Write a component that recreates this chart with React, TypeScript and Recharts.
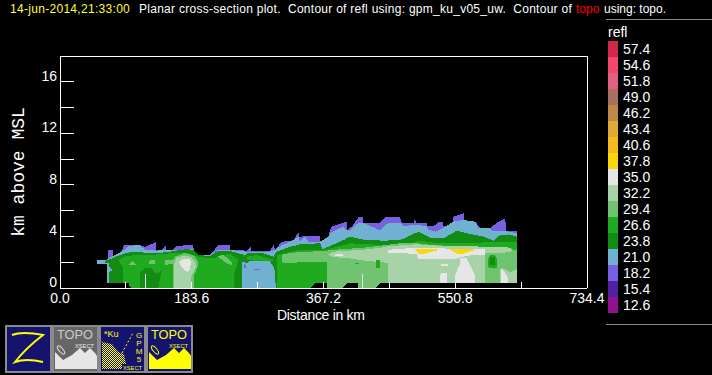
import { ComposedChart, Area, XAxis, YAxis } from "recharts";

const FONT = "'Liberation Sans', Arimo, sans-serif";

const distanceTicks = [0, 91.8, 183.6, 275.4, 367.2, 459, 550.8, 642.6, 734.4];
const heightTicks = [0, 2, 4, 6, 8, 10, 12, 14, 16];

const legendLevels = ["57.4", "54.6", "51.8", "49.0", "46.2", "43.4", "40.6", "37.8", "35.0", "32.2", "29.4", "26.6", "23.8", "21.0", "18.2", "15.4", "12.6"];
const legendColors = ["#d0284a", "#f2476f", "#e06080", "#a87060", "#c08848", "#e0a838", "#f8b820", "#f8d808", "#e6e6e6", "#a8d2a8", "#70c470", "#20aa20", "#128c12", "#70b0d0", "#7860e0", "#5020a0", "#901090"];

const PURPLE = "#7860e0";
const BLUE = "#70b0d0";
const DARK = "#128c12";
const GREEN = "#20aa20";
const LIGHT = "#70c470";
const PALE = "#a8d2a8";
const GRAY = "#e6e6e6";
const YELLOW = "#f8d808";

// [distance km, lower km, upper km]
type Pt = number[];

const purpleEnvelope: Pt[] = [
  [67, 2.2, 2.95], [73.4, 2.2, 2.95], [73.4, 2, 2.48], [82.7, 0, 2.5], [89.2, 0, 3.33], [111.5, 0, 3.33], [118.5, 0, 3.2],
  [125.4, 0, 3.38], [133.3, 0, 3.54], [133.3, 0, 2.95], [141.7, 0, 2.95], [147.8, 0, 3.26], [147.8, 0, 2.95], [157, 0, 2.95],
  [163.5, 0, 3.28], [185, 0, 3.33], [186.8, 0, 2.95], [192.8, 0, 2.56], [209, 0, 2.56], [220.7, 0, 3.33], [237, 0, 3.33],
  [237, 0, 2.95], [260.2, 0, 2.9], [266.2, 0, 3.26], [266.2, 0, 2.9], [292.7, 0, 2.9], [297.4, 0, 3.33], [299.7, 0, 2.95],
  [309, 0, 3.59], [325.3, 0, 3.67], [332.2, 0, 4.32], [333.2, 0, 3.98], [346, 0, 4.03], [362.5, 0, 4.03], [362.5, 0, 3.59],
  [371.8, 0, 3.59], [377.8, 0, 4.76], [395, 0, 5.07], [399.7, 0, 5.15], [399.7, 0, 4.5], [406.6, 0, 4.76], [415.9, 0, 5.48],
  [422, 0, 5.48], [422, 0, 5.07], [446.1, 0, 5.07], [453.1, 0, 5.48], [474, 0, 5.48], [476.3, 0, 5.07], [492.6, 0, 5.07],
  [494.9, 0, 5.4], [495.9, 0, 5.07], [511.2, 0, 5.07], [511.2, 0, 4.81], [520.5, 0, 4.81], [527.4, 0, 5.09], [533.5, 0, 5.09],
  [533.5, 0, 4.81], [547.4, 0, 4.81], [548.4, 0, 5.53], [562.3, 0, 5.79], [563.2, 0, 5.15], [578.6, 0, 5.15], [585.5, 0, 4.63],
  [599.5, 0, 4.63], [608.8, 0, 5.07], [620.4, 0, 5.4], [621.8, 0, 4.45], [636.7, 0, 4.45],
];

const blueEnvelope: Pt[] = [
  [51.6, 1.9, 2.17], [65, 1.9, 2.17], [66, 0, 2.25], [83.6, 0, 2.74], [89.2, 0, 2.95], [95.2, 0, 3.26], [111.5, 0, 3.33],
  [118.5, 0, 2.95], [134.7, 0, 2.9], [148.7, 0, 2.95], [165, 0, 2.95], [185.8, 0, 3], [192.8, 0, 2.56], [209, 0, 2.56],
  [220.7, 0, 2.95], [237, 0, 2.95], [260.2, 0, 2.82], [292.7, 0, 2.82], [299.7, 0, 2.95], [309, 0, 3.33], [320.6, 0, 3.59],
  [332.2, 0, 4], [334.6, 0, 3.6], [341.6, 0, 3.98], [346.2, 0, 3.59], [362.5, 0, 3.59], [374.1, 0, 3.98], [377.8, 0, 4.32],
  [395, 0, 4.76], [399.7, 0, 4.5], [404.3, 0, 4.45], [415.9, 0, 5.07], [422.9, 0, 5.07], [446.1, 0, 4.45], [457.7, 0, 5.07],
  [474, 0, 5.07], [478.7, 0, 4.81], [494.9, 0, 4.89], [511.2, 0, 4.81], [513.5, 0, 4.5], [524.2, 0, 4.37], [533.5, 0, 4.63],
  [548.4, 0, 5.15], [562.3, 0, 5.28], [578.6, 0, 5.15], [583.2, 0, 4.63], [599.5, 0, 4.63], [601.8, 0, 4.45], [618, 0, 4.45],
  [636.7, 0, 4.24],
];

const darkEnvelope: Pt[] = [
  [63, 1.95, 2.1], [68, 1.95, 2.2], [68, 0, 2.2], [83.6, 0, 2.56], [95.2, 0, 2.74], [102.2, 0, 2.82], [118.5, 0, 2.74],
  [134.7, 0, 2.69], [153.3, 0, 2.82], [176.6, 0, 3.02], [185.8, 0, 2.95], [192.8, 0, 2.56], [209, 0, 2.48], [220.7, 0, 2.9],
  [237, 0, 2.87], [257.9, 0, 2.56], [260.2, 0, 2.69], [283.4, 0, 2.69], [297.4, 0, 2.43], [302, 0, 2.82], [320.6, 0, 3.2],
  [332.2, 0, 3.33], [334.6, 0, 3.4], [362.5, 0, 3.47], [365.3, 0, 3.02], [374.1, 0, 3.21], [395, 0, 3.72], [404.3, 0, 3.98],
  [420.6, 0, 3.77], [450.8, 0, 3.67], [474, 0, 3.72], [499.6, 0, 4.37], [518.2, 0, 3.85], [534.4, 0, 3.85], [553, 0, 4.45],
  [567, 0, 4.24], [590.2, 0, 3.98], [604.1, 0, 3.67], [611, 0, 4.06], [625, 0, 4.16], [636.7, 0, 3.98],
];

const blueBlock: Pt[] = [
  [254.2, 0, 2.05], [260.2, 0, 1.91], [264.9, 0, 2.09], [292.7, 0, 2.09], [298.8, 0, 1.52], [300.6, 0, 0.2],
];
const blueNotch: Pt[] = [[67, 1.15, 1.7], [72, 1.35, 1.5]];
const purpleSpeckA: Pt[] = [[257, 1.55, 1.9], [259.5, 1.6, 1.75]];
const purpleSpeckB: Pt[] = [[271, 1.4, 1.5], [278.5, 1.4, 1.5]];

const greenWest: Pt[] = [
  [81.3, 2.17, 2.17], [88.3, 1.5, 2.42], [88.3, 0, 2.42], [104.5, 0, 2.56], [125.4, 0, 2.56], [153.3, 0, 2.69], [176.6, 0, 2.74],
  [185.8, 0, 2.56], [192.8, 0, 2.43], [209, 0, 2.3], [216, 0, 2.3], [223, 0, 2.56], [237, 0, 2.63], [242.5, 0, 2.45],
  [242.5, 1, 2.45], [248.6, 2.17, 2.17],
];
const greenMiddle: Pt[] = [[260.2, 2.2, 2.43], [274.2, 2.1, 2.56], [290, 2.1, 2.3], [297.4, 2.1, 2.2]];
const greenEast: Pt[] = [
  [302, 0, 2.56], [320.6, 0, 2.82], [334.6, 0, 2.95], [362.5, 0, 2.95], [374.1, 0, 3.02], [395, 0, 3.33], [404.3, 0, 3.47],
  [450.8, 0, 3.33], [474, 0, 3.33], [501.9, 0, 3.67], [520.5, 0, 3.52], [567, 0, 3.47], [608.8, 0, 3.59], [636.7, 0, 3.59],
];
const darkArch: Pt[] = [[111.5, 0, 1.18], [118.5, 0, 1.52], [127.8, 0, 1.52], [132.4, 0, 1.18], [137, 0, 1.15], [141.7, 1.4, 1.4]];

const lightBlobA: Pt[] = [[95.2, 1.78, 1.78], [100.8, 1.78, 2.09], [106.9, 1.78, 1.78]];
const lightBlobB: Pt[] = [[124.5, 1.88, 2.1], [128, 1.85, 2.2], [132, 1.85, 2.2], [132.4, 1.95, 1.95]];
const lightBlobC: Pt[] = [[146.4, 1.8, 2.15], [155, 1.85, 2.2], [157, 1.9, 2.15]];
const lightCore: Pt[] = [[158, 0, 2.2], [161, 0, 2.45], [174, 0, 2.72], [186.8, 0, 2.5], [186.8, 1, 2.5], [192.8, 1.8, 2]];
const lightBlobD: Pt[] = [[220.7, 2.4, 2.5], [228, 2.1, 2.55], [234, 1.85, 2.3], [239, 1.8, 2], [239.5, 1.85, 1.9]];
const lightEast: Pt[] = [
  [309, 2, 2.5], [312, 1.95, 2.63], [325.3, 1.95, 2.74], [334.6, 2, 2.8], [362.5, 2.05, 2.85], [371.8, 2.05, 2.9], [371.8, 0, 2.9],
  [390.4, 0, 3], [427.5, 0, 3.15], [474, 0, 3.47], [497.2, 0, 3.47], [520.5, 0, 3.33], [567, 0, 3.2], [594.8, 0, 3.2], [636.7, 0, 2.95],
];

const paleCore: Pt[] = [[159.5, 0, 1.9], [162, 0, 2.35], [174, 0, 2.52], [183, 0, 2.4], [183, 0.9, 2.4], [190.1, 1.7, 1.85]];
const paleEast: Pt[] = [
  [374, 2.6, 2.6], [381, 2.4, 2.82], [404, 2.3, 2.9], [427.5, 2.1, 3], [450, 2, 3.15], [457.7, 1.9, 3.25], [457.7, 0, 3.25],
  [474, 0, 3.3], [497.2, 0, 3.4], [520.5, 0, 3.3], [567, 0, 3.25], [592.5, 0, 3.2],
];
const paleUpperEast: Pt[] = [[592.5, 2.7, 3.2], [620, 2.75, 3.2], [630, 2.85, 3.05]];
const paleLowerEast: Pt[] = [[613, 0, 1.4], [616, 0, 1.55], [628, 0, 1.2], [636.7, 0, 1.5]];
const greenBlob: Pt[] = [[597, 1.6, 2.3], [600, 1.55, 2.58], [606, 1.5, 2.58], [609, 1.6, 2.3]];
const darkBlob: Pt[] = [[599.5, 1.8, 2.4], [606.5, 1.8, 2.4]];
const greenSpeckA: Pt[] = [[411, 1.85, 1.95], [417, 1.85, 1.95]];
const greenSpeckB: Pt[] = [[440.5, 1.55, 2.2], [446, 1.55, 2.2]];

const grayCore: Pt[] = [[166.4, 1.95, 2], [170, 1.55, 2.2], [177, 1.25, 2.25], [181, 1.4, 2.25], [182.2, 1.95, 2]];
const grayBand: Pt[] = [
  [456.4, 2.75, 2.95], [474, 2.7, 3.05], [497.2, 2.65, 3.1], [499, 2.25, 3.1], [551, 2.25, 3.05], [566, 2.5, 3.05], [592, 2.6, 3],
];
const grayColumn: Pt[] = [[550.7, 0, 1], [557, 0, 1.85], [558, 0, 2.3], [567, 0, 2.3], [571, 0, 1.85], [578.5, 0, 1]];
const graySpike: Pt[] = [[614, 0, 1.3], [616, 0, 1.5], [622, 0, 1], [625, 0, 0.7]];
const grayFoot: Pt[] = [[529.8, 0, 1], [532, 0, 1.15], [539, 0, 1.15], [539.1, 0, 0.4]];
const graySpeckA: Pt[] = [[530.7, 1.7, 1.9], [541, 1.7, 1.9]];
const graySpeckB: Pt[] = [[383.4, 2.45, 2.65], [395, 2.45, 2.65]];
const graySliverA: Pt[] = [[118.6, 0, 1.1], [119.6, 0, 1.1]];
const graySliverB: Pt[] = [[421, 0, 1.1], [422, 0, 1.1]];

const yellowWest: Pt[] = [[495, 2.95, 3], [501, 2.62, 3], [511, 2.7, 3], [525, 2.9, 3]];
const yellowEast: Pt[] = [[543.7, 2.95, 3], [556, 2.6, 3], [565, 2.7, 3], [577, 2.95, 3]];

// topography, drawn black over the contours
const topoMask: Pt[] = [
  [40, 0, 0.39], [96.5, 0, 0.39], [96.5, 0, 0.2], [99, 0, 0], [348.5, 0, 0], [355.5, 0, 0.39], [371.8, 0, 0.39], [371.8, 0, 0],
  [393.6, 0, 0], [400, 0, 0.39], [415, 0, 0.39], [415, 0, 0], [439, 0, 0], [446, 0, 0.39], [640, 0, 0.39], [640, 0, 0],
];

const layers: [Pt[], string][] = [
  [purpleEnvelope, PURPLE], [blueEnvelope, BLUE], [darkEnvelope, DARK], [blueBlock, BLUE], [blueNotch, BLUE], [purpleSpeckA, PURPLE],
  [purpleSpeckB, PURPLE], [greenWest, GREEN], [greenMiddle, GREEN], [greenEast, GREEN], [darkArch, DARK], [lightBlobA, LIGHT],
  [lightBlobB, LIGHT], [lightBlobC, LIGHT], [lightCore, LIGHT], [lightBlobD, LIGHT], [lightEast, LIGHT], [paleCore, PALE],
  [paleEast, PALE], [paleUpperEast, PALE], [paleLowerEast, PALE], [greenBlob, GREEN], [darkBlob, DARK], [greenSpeckA, GREEN], [greenSpeckB, GREEN],
  [grayCore, GRAY], [grayBand, GRAY], [grayColumn, GRAY], [graySpike, GRAY], [grayFoot, GRAY], [graySpeckA, GRAY], [graySpeckB, GRAY],
  [graySliverA, GRAY], [graySliverB, GRAY], [yellowWest, YELLOW], [yellowEast, YELLOW], [topoMask, "#000"],
];

const toRows = (pts: Pt[]) => pts.map((p) => ({ km: p[0], range: [p[1], p[2]] }));

function BottomTick({ x, y, index, payload }: any) {
  const even = index % 2 === 0;
  return (
    <g>
      {index > 0 && index < 8 && <line x1={x} x2={x} y1={y} y2={y - 6} stroke="#fff" />}
      {even && (
        <text x={x} y={y + 15} fill="#fff" fontSize={14} fontFamily={FONT} textAnchor="middle">
          {payload.value.toFixed(1)}
        </text>
      )}
    </g>
  );
}

function TopTick({ x, y, index }: any) {
  if (index === 0 || index === 8) return <g />;
  return <line x1={x} x2={x} y1={y} y2={y + 6} stroke="#fff" />;
}

function LeftTick({ x, y, payload }: any) {
  const v = payload.value;
  return (
    <g>
      {v > 0 && <line x1={x} x2={x + 14} y1={y} y2={y} stroke="#fff" />}
      {v % 4 === 0 && (
        <text x={x - 3} y={y - 1} fill="#fff" fontSize={14} fontFamily={FONT} textAnchor="end">
          {v}
        </text>
      )}
    </g>
  );
}

const label = (left: number, top: number, color: string, size = 12, spacing = 0): React.CSSProperties => ({
  position: "absolute",
  left,
  top,
  color,
  fontSize: size,
  fontFamily: FONT,
  whiteSpace: "pre",
  lineHeight: "16px",
  letterSpacing: spacing,
});

function Terrain({ dx, fill }: { dx: number; fill: string }) {
  return (
    <g transform={`translate(${dx} 0)`}>
      <path d="M51 28 L59 36 L68 31 L76 24 L81 29 L86 24 L91 29 L93 32 V45 H51 Z" fill={fill} />
      <ellipse cx={57} cy={26} rx={5} ry={2} fill="none" stroke={fill} transform="rotate(50 57 26)" />
    </g>
  );
}

function Icons() {
  const big = { fontFamily: FONT, fontSize: 12, textLength: 36, lengthAdjust: "spacingAndGlyphs" };
  const small = { fontFamily: FONT, fontSize: 6, textLength: 19, lengthAdjust: "spacingAndGlyphs" };
  const tiny = { fontFamily: FONT, fontSize: 8 };
  return (
    <svg width={192} height={50} style={{ position: "absolute", left: 4, top: 324 }}>
      <defs>
        <pattern id="chk" width={2} height={2} patternUnits="userSpaceOnUse">
          <rect width={1} height={1} fill="#ff0" />
          <rect x={1} y={1} width={1} height={1} fill="#ff0" />
        </pattern>
      </defs>
      <rect x={2} y={2} width={45} height={46} fill="#14146e" stroke="#8a8a8a" strokeWidth={2} />
      <path d="M8 11 Q18 7 39 11 Q22 24 11 38 Q22 34 39 38" fill="none" stroke="#ff0" strokeWidth={2} />

      <rect x={49} y={2} width={45} height={46} fill="#666" stroke="#8a8a8a" strokeWidth={2} />
      <text x={53} y={15} fill="#ccc" {...big}>TOPO</text>
      <text x={71} y={24} fill="#eee" {...small}>XSECT</text>
      <Terrain dx={0} fill="#e6e6e6" />

      <rect x={96} y={2} width={45} height={46} fill="#14146e" stroke="#8a8a8a" strokeWidth={2} />
      <text x={100} y={13} fill="#ff0" {...tiny} fontSize={9}>*Ku</text>
      <path d="M98 18 L108 20 L114 28 L120 30 L122 40 L118 40 V45 H98 Z" fill="url(#chk)" />
      <path d="M118 29 L129 9" stroke="#ff0" strokeDasharray="2 2" />
      <text x={135} y={14} fill="#ff0" textAnchor="middle" {...tiny}>G</text>
      <text x={135} y={22} fill="#ff0" textAnchor="middle" {...tiny}>P</text>
      <text x={135} y={30} fill="#ff0" textAnchor="middle" {...tiny}>M</text>
      <text x={135} y={38} fill="#ff0" textAnchor="middle" {...tiny}>5</text>
      <text x={119} y={46} fill="#ff0" {...small}>XSECT</text>

      <rect x={143} y={2} width={45} height={46} fill="#14146e" stroke="#8a8a8a" strokeWidth={2} />
      <text x={147} y={15} fill="#ff0" {...big}>TOPO</text>
      <text x={165} y={24} fill="#ff0" {...small}>XSECT</text>
      <Terrain dx={94} fill="#ff0" />
    </svg>
  );
}

export default function App() {
  return (
    <div style={{ position: "absolute", left: 0, top: 0, width: 712, height: 375, background: "#000", overflow: "hidden" }}>
      <div style={{ shapeRendering: "crispEdges" } as React.CSSProperties}>
        <ComposedChart width={712} height={375} margin={{ top: 55, right: 124, bottom: 86, left: 59 }}>
          {layers.map(([pts, color], i) => (
            <Area
              key={i}
              data={toRows(pts)}
              dataKey="range"
              type="linear"
              fill={color}
              fillOpacity={1}
              stroke="none"
              dot={false}
              activeDot={false}
              isAnimationActive={false}
            />
          ))}
          <XAxis
            dataKey="km"
            type="number"
            domain={[0, 734.4]}
            ticks={distanceTicks}
            interval={0}
            height={1}
            tickSize={0}
            tickMargin={0}
            tickLine={false}
            tick={BottomTick}
            axisLine={{ stroke: "#fff" }}
            allowDataOverflow
          />
          <XAxis
            xAxisId="top"
            orientation="top"
            type="number"
            domain={[0, 734.4]}
            ticks={distanceTicks}
            interval={0}
            height={1}
            tickSize={0}
            tickMargin={0}
            tickLine={false}
            tick={TopTick}
            axisLine={{ stroke: "#fff" }}
          />
          <YAxis
            type="number"
            domain={[0, 18]}
            ticks={heightTicks}
            interval={0}
            width={1}
            tickSize={0}
            tickMargin={0}
            tickLine={false}
            tick={LeftTick}
            axisLine={{ stroke: "#fff" }}
            allowDataOverflow
          />
          <YAxis yAxisId="right" orientation="right" type="number" domain={[0, 18]} width={1} tick={false} tickLine={false} axisLine={{ stroke: "#fff" }} />
        </ComposedChart>
      </div>

      <div style={label(10, 1, "#ffff33", 12, 0.3)}>14-jun-2014,21:33:00</div>
      <div style={label(139, 1, "#fff", 12, 0.27)}>Planar cross-section plot.  Contour of refl using: gpm_ku_v05_uw.  Contour of </div>
      <div style={label(576, 1, "#ff0000")}>topo</div>
      <div style={label(604, 1, "#fff")}>using: topo.</div>

      <div style={label(277, 307, "#fff", 14, -0.3)}>Distance in km</div>
      <div
        style={{
          position: "absolute",
          left: 19,
          top: 172,
          color: "#fff",
          fontSize: 18,
          fontFamily: "'Liberation Mono', monospace",
          whiteSpace: "pre",
          lineHeight: "18px",
          transform: "translate(-50%, -50%) rotate(-90deg)",
        }}
      >
        km above MSL
      </div>

      <div style={{ position: "absolute", left: 606, top: 19, width: 106, height: 1, background: "#888" }} />
      <div style={{ position: "absolute", left: 606, top: 324, width: 106, height: 1, background: "#888" }} />
      <div style={label(608, 24, "#fff", 14)}>refl</div>
      {legendLevels.map((lv, i) => (
        <div key={lv}>
          <div style={{ position: "absolute", left: 608, top: 41 + i * 16, width: 10, height: 16, background: legendColors[i] }} />
          <div style={label(623, 41 + i * 16, "#fff", 14)}>{lv}</div>
        </div>
      ))}
      <Icons />
    </div>
  );
}
